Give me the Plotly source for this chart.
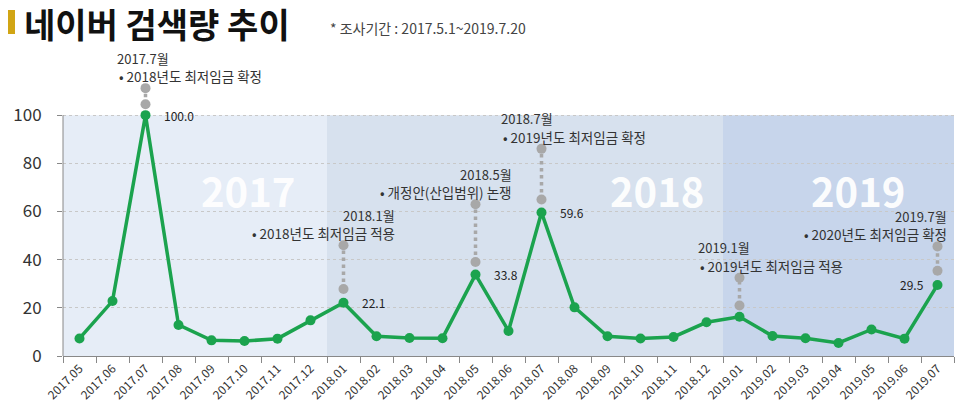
import plotly.graph_objects as go

# monthly Naver search volume index (peak = 100)
months = ["2017.05", "2017.06", "2017.07", "2017.08", "2017.09", "2017.10", "2017.11", "2017.12",
          "2018.01", "2018.02", "2018.03", "2018.04", "2018.05", "2018.06", "2018.07", "2018.08",
          "2018.09", "2018.10", "2018.11", "2018.12",
          "2019.01", "2019.02", "2019.03", "2019.04", "2019.05", "2019.06", "2019.07"]
volume = [7.3, 22.8, 100.0, 12.9, 6.5, 6.2, 7.2, 14.8,
          22.1, 8.2, 7.5, 7.4, 33.8, 10.4, 59.6, 20.2,
          8.2, 7.3, 7.9, 14.0,
          16.3, 8.3, 7.4, 5.4, 11.0, 7.2, 29.5]

# events marked with grey dotted pins
event_months = ["2017.07", "2018.01", "2018.05", "2018.07", "2019.01", "2019.07"]
pin_low = [104.5, 27.8, 39.0, 65.0, 21.0, 35.4]
pin_high = [111.2, 46.0, 63.0, 86.0, 32.5, 45.5]
event_dates = ["2017.7월", "2018.1월", "2018.5월", "2018.7월", "2019.1월", "2019.7월"]
event_notes = ["• 2018년도 최저임금 확정", "• 2018년도 최저임금 적용", "• 개정안(산입범위) 논쟁",
               "• 2019년도 최저임금 확정", "• 2019년도 최저임금 적용", "• 2020년도 최저임금 확정"]
event_side = ["left", "right", "right", "left", "left", "right"]
event_shift = [-29, 52, 37, -41, -42, 10]

# labelled values
label_months = ["2017.07", "2018.01", "2018.05", "2018.07", "2019.07"]
label_values = [100.0, 22.1, 33.8, 59.6, 29.5]

years = ["2017", "2018", "2019"]
year_spans = [(0, 7), (8, 19), (20, 26)]
year_colors = ["#E6EDF7", "#D7E1EE", "#C7D5EB"]
year_label_pos = [5.1, 17.5, 23.6]

FONT = "Noto Sans CJK KR"
GREEN = "#1BA34E"
GREY = "#A8A8A8"
Y_TOP = 115  # headroom above 100 for the event pins

idx = {m: i for i, m in enumerate(months)}

fig = go.Figure()

for m, lo, hi in zip(event_months, pin_low, pin_high):
    fig.add_trace(go.Scatter(
        x=[m, m], y=[lo, hi], mode="lines+markers",
        line=dict(color=GREY, width=3.5, dash="dot"),
        marker=dict(color=GREY, size=10),
        cliponaxis=False, hoverinfo="skip", showlegend=False))

fig.add_trace(go.Scatter(
    x=months, y=volume, mode="lines+markers",
    line=dict(color=GREEN, width=3.5),
    marker=dict(color=GREEN, size=10),
    cliponaxis=False, showlegend=False))

shapes = []
for (a, b), c in zip(year_spans, year_colors):
    shapes.append(dict(type="rect", xref="x", yref="y", x0=a - 0.5, x1=b + 0.5, y0=0, y1=100,
                       fillcolor=c, line_width=0, layer="below"))

# y axis line only up to 100
shapes.append(dict(type="line", xref="paper", yref="y", x0=0, x1=0, y0=0, y1=100,
                   line=dict(color="#888888", width=1), layer="above"))

# gold marker bar next to title (pixel offsets from the plot's top-left corner)
shapes.append(dict(type="rect", xref="paper", yref="paper", xsizemode="pixel", ysizemode="pixel",
                   xanchor=0, yanchor=1, x0=-55, x1=-48, y0=69, y1=45,
                   fillcolor="#D1A514", line_width=0, layer="above"))

annotations = []
for m, hi, d, n, side, sh in zip(event_months, pin_high, event_dates, event_notes, event_side, event_shift):
    annotations.append(dict(
        x=idx[m], y=hi, xref="x", yref="y", text=d, showarrow=False, borderpad=0,
        xanchor=side, yanchor="middle", xshift=sh + (-1 if side == "left" else 0), yshift=30,
        font=dict(family=FONT, size=13, color="#333333")))
    annotations.append(dict(
        x=idx[m], y=hi, xref="x", yref="y", text=n, showarrow=False, borderpad=0,
        xanchor=side, yanchor="middle", xshift=sh + (1 if side == "left" else 0), yshift=12,
        font=dict(family=FONT, size=13.5, color="#333333")))

for m, v in zip(label_months, label_values):
    right = m == "2019.07"
    annotations.append(dict(
        x=idx[m], y=v, xref="x", yref="y", text=f"{v:.1f}", showarrow=False, borderpad=0,
        xanchor="right" if right else "left", xshift=-13 if right else 17,
        font=dict(family=FONT, size=12, color="#222222")))

for yr, pos in zip(years, year_label_pos):
    annotations.append(dict(
        x=pos, y=69, xref="x", yref="y", text=f"<b>{yr}</b>", showarrow=False, borderpad=0,
        font=dict(family=FONT, size=40, color="rgba(255,255,255,0.95)")))

annotations.append(dict(
    x=0, y=1, xref="paper", yref="paper", xanchor="left", yanchor="middle",
    text="<b>네이버 검색량 추이</b>", showarrow=False, xshift=-40, yshift=56, borderpad=0,
    font=dict(family=FONT, size=34, color="#111111")))
annotations.append(dict(
    x=0, y=1, xref="paper", yref="paper", xanchor="left", yanchor="middle",
    text="* 조사기간 : 2017.5.1~2019.7.20", showarrow=False, xshift=266, yshift=51, borderpad=0,
    font=dict(family=FONT, size=14, color="#444444")))

fig.update_layout(
    width=960, height=416,
    margin=dict(l=63, r=6, t=79, b=60),
    paper_bgcolor="white", plot_bgcolor="white",
    shapes=shapes, annotations=annotations,
    xaxis=dict(
        type="category", categoryorder="array", categoryarray=months,
        tickson="boundaries", ticks="outside", ticklen=6,
        tickcolor="#888888", showline=True, linecolor="#888888", linewidth=1,
        showgrid=False, tickangle=-45,
        tickfont=dict(family=FONT, size=12, color="#333333"),
        range=[-0.5, len(months) - 0.5]),
    yaxis=dict(
        range=[0, Y_TOP], tickvals=[0, 20, 40, 60, 80, 100], ticks="outside", ticklen=5,
        tickcolor="#888888", showline=False,
        showgrid=True, gridcolor="#C8C8C8", griddash="dot", zeroline=False,
        ticklabelstandoff=12,
        tickfont=dict(family=FONT, size=17, color="#333333")),
)

fig.write_html("out.html", config={"displayModeBar": False},
               post_script="document.body.style.margin='0';")
